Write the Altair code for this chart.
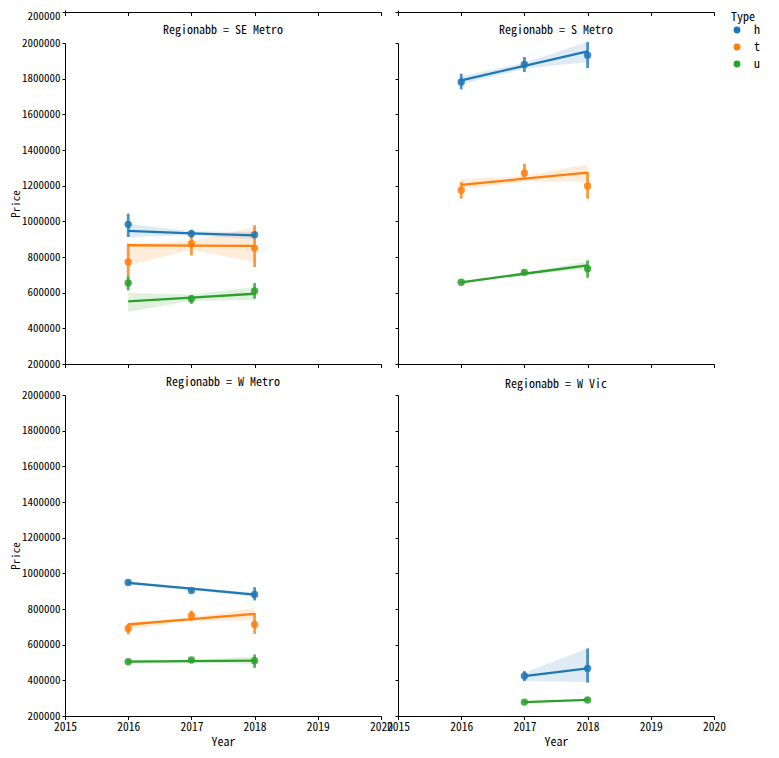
import altair as alt
import pandas as pd

FONT = "'Noto Sans Mono CJK SC', 'Noto Sans CJK SC', 'DejaVu Sans Mono', monospace"

type_names = ["h", "t", "u"]
type_colors = ["#1f77b4", "#ff7f0e", "#2ca02c"]
year_ticks = [2015, 2016, 2017, 2018, 2019, 2020]
price_ticks = [200000, 400000, 600000, 800000, 1000000, 1200000, 1400000,
               1600000, 1800000, 2000000]

row_region = (["SE Metro"] * 9 + ["S Metro"] * 9 + ["W Metro"] * 9 + ["W Vic"] * 4)
row_type = (["h"] * 3 + ["t"] * 3 + ["u"] * 3) * 3 + ["h", "h", "u", "u"]
row_year = [2016, 2017, 2018] * 9 + [2017, 2018, 2017, 2018]

mean_price = [983000, 930000, 925000, 772000, 875000, 850000, 654000, 566000, 609000,
              1781000, 1880000, 1931000, 1174000, 1271000, 1198000, 658000, 714000, 734000,
              949000, 904000, 881000, 691000, 762000, 713000, 504000, 514000, 510000,
              424000, 467000, 278000, 290000]
ci_low = [912000, 906000, 912000, 697000, 809000, 744000, 613000, 537000, 566000,
          1740000, 1837000, 1860000, 1127000, 1239000, 1127000, 650000, 704000, 684000,
          938000, 895000, 848000, 657000, 732000, 661000, 494000, 504000, 470000,
          396000, 387000, 273000, 285000]
ci_high = [1043000, 953000, 940000, 875000, 930000, 978000, 697000, 586000, 654000,
           1828000, 1921000, 2005000, 1220000, 1323000, 1277000, 666000, 724000, 781000,
           960000, 913000, 922000, 717000, 791000, 778000, 514000, 524000, 545000,
           452000, 579000, 283000, 295000]
fit_price = [946000, 933000, 921000, 866000, 864000, 862000, 551000, 572000, 594000,
             1791000, 1872000, 1953000, 1205000, 1239000, 1273000, 658000, 706000, 753000,
             947000, 914000, 881000, 713000, 743000, 773000, 505000, 508000, 511000,
             424000, 467000, 278000, 290000]
band_low = [912000, 922000, 899000, 753000, 840000, 772000, 492000, 555000, 557000,
            1768000, 1855000, 1893000, 1180000, 1222000, 1224000, 652000, 700000, 731000,
            939000, 907000, 869000, 686000, 733000, 736000, 493000, 502000, 490000,
            396000, 390000, 274000, 285000]
band_high = [987000, 944000, 940000, 875000, 888000, 968000, 600000, 590000, 632000,
             1813000, 1889000, 2005000, 1236000, 1254000, 1320000, 664000, 712000, 776000,
             955000, 921000, 893000, 725000, 753000, 806000, 517000, 514000, 535000,
             442000, 579000, 282000, 295000]

df = pd.DataFrame({
    "Regionabb": row_region, "Type": row_type, "Year": row_year,
    "Price": mean_price, "ci_lo": ci_low, "ci_hi": ci_high,
    "fit": fit_price, "band_lo": band_low, "band_hi": band_high,
})

color_scale = alt.Scale(domain=type_names, range=type_colors)
x_scale = alt.Scale(domain=[2015, 2020], nice=False, zero=False)
y_scale = alt.Scale(domain=[200000, 2000000], nice=False, zero=False)


def x_enc(show_labels):
    kw = dict(values=year_ticks, format="d", labels=show_labels, labelFlush=False)
    kw["title"] = "Year" if show_labels else None
    return alt.X("Year:Q", scale=x_scale, axis=alt.Axis(**kw))


def y_axis(show_labels):
    kw = dict(values=price_ticks, format="d", labels=show_labels, labelFlush=False)
    kw["title"] = "Price" if show_labels else None
    return alt.Axis(**kw)


def panel(region, show_y, show_x):
    base = alt.Chart(df).transform_filter(alt.datum.Regionabb == region)
    x = x_enc(show_x)
    col = alt.Color("Type:N", scale=color_scale, title="Type")
    rules = base.mark_rule(strokeWidth=2.8, opacity=0.8).encode(
        x=x, y=alt.Y("ci_lo:Q", scale=y_scale, axis=y_axis(show_y)), y2="ci_hi:Q",
        color=col)
    points = base.mark_circle(size=55, opacity=0.85).encode(
        x=x, y=alt.Y("Price:Q", scale=y_scale, axis=y_axis(show_y)), color=col)
    band = base.mark_area(opacity=0.15).encode(
        x=x, y=alt.Y("band_lo:Q", scale=y_scale, axis=y_axis(show_y)), y2="band_hi:Q",
        color=col)
    line = base.mark_line(strokeWidth=2.3).encode(
        x=x, y=alt.Y("fit:Q", scale=y_scale, axis=y_axis(show_y)), color=col)
    # left panels' bounds include the top tick label, so pull their title down to match
    off = 0 if show_y else 4
    return alt.layer(rules, points, band, line).properties(
        width=316, height=321,
        title=alt.TitleParams("Regionabb = " + region, frame="group", offset=off))


def remnant(show_y):
    d = pd.DataFrame({"Year": [2015], "Price": [200000]})
    kw = dict(values=[200000], format="d", labels=show_y, title=None, labelOffset=4)
    return alt.Chart(d).mark_point(opacity=0).encode(
        x=alt.X("Year:Q", scale=x_scale,
                axis=alt.Axis(values=year_ticks, labels=False, title=None)),
        y=alt.Y("Price:Q", scale=y_scale, axis=alt.Axis(**kw)),
    ).properties(width=316, height=2)


chart = alt.concat(
    remnant(True), remnant(False),
    panel("SE Metro", True, False), panel("S Metro", False, False),
    panel("W Metro", True, True), panel("W Vic", False, True),
    columns=2, spacing={"row": 31, "column": 17}, bounds="flush",
).properties(
    padding={"left": 2, "top": 1, "right": 5, "bottom": 5},
).configure(
    font=FONT,
).configure_view(
    stroke=None,
).configure_axis(
    grid=False, domainColor="black", tickColor="black", labelColor="black",
    titleColor="black", labelFontSize=11, titleFontSize=11, titleFontWeight="normal",
    tickSize=3, labelPadding=2, titlePadding=0, labelFont=FONT, titleFont=FONT,
).configure_axisX(
    labelFontSize=11.5, titleFontSize=12, titlePadding=3, tickSize=3.5,
).configure_title(
    fontSize=12, fontWeight="normal", color="black", font=FONT,
).configure_legend(
    orient="right", offset=3, padding=2, titleFontSize=12, labelFontSize=12,
    titleFontWeight="normal", symbolSize=48, symbolOpacity=1, symbolStrokeWidth=0,
    symbolType="circle", titlePadding=0,
    labelOffset=11, rowPadding=5, titleFont=FONT, labelFont=FONT,
)

chart.save("out.html", embed_options={"renderer": "svg", "actions": False})
